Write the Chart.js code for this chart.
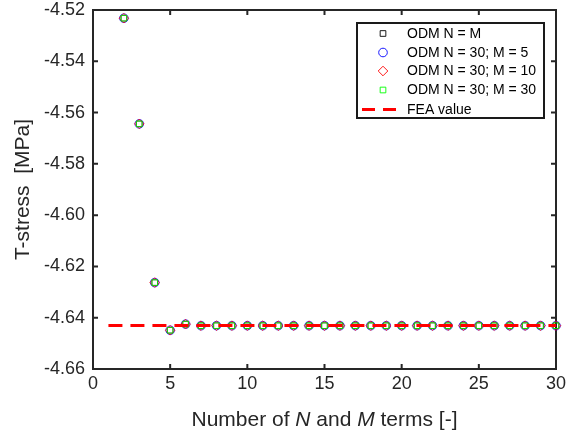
<!DOCTYPE html>
<html>
<head>
<meta charset="utf-8">
<script src="https://cdn.jsdelivr.net/npm/chart.js@4/dist/chart.umd.min.js"></script>
<style>
  html, body { margin: 0; padding: 0; background: #fff; }
  #wrap { width: 566px; height: 435px; }
</style>
</head>
<body>
<div id="wrap"><canvas id="c" width="566" height="435"></canvas></div>
<script>
// Number of series terms (N and M)
const nTerms = [2, 3, 4, 5, 6, 7, 8, 9, 10, 11, 12, 13, 14, 15, 16, 17, 18, 19, 20, 21, 22, 23, 24, 25, 26, 27, 28, 29, 30];

// T-stress [MPa] for each ODM configuration
const tStressNeqM = [-4.5232, -4.5644, -4.6263, -4.6449, -4.6425, -4.6431, -4.6431, -4.6431, -4.6431, -4.6431, -4.6431, -4.6431, -4.6431, -4.6431, -4.6431, -4.6431, -4.6431, -4.6431, -4.6431, -4.6431, -4.6431, -4.6431, -4.6431, -4.6431, -4.6431, -4.6431, -4.6431, -4.6431, -4.6431];
const tStressM5 = [-4.5232, -4.5644, -4.6263, -4.6449, -4.6425, -4.6431, -4.6431, -4.6431, -4.6431, -4.6431, -4.6431, -4.6431, -4.6431, -4.6431, -4.6431, -4.6431, -4.6431, -4.6431, -4.6431, -4.6431, -4.6431, -4.6431, -4.6431, -4.6431, -4.6431, -4.6431, -4.6431, -4.6431, -4.6431];
const tStressM10 = [-4.5232, -4.5644, -4.6263, -4.6449, -4.6425, -4.6431, -4.6431, -4.6431, -4.6431, -4.6431, -4.6431, -4.6431, -4.6431, -4.6431, -4.6431, -4.6431, -4.6431, -4.6431, -4.6431, -4.6431, -4.6431, -4.6431, -4.6431, -4.6431, -4.6431, -4.6431, -4.6431, -4.6431, -4.6431];
const tStressM30 = [-4.5232, -4.5644, -4.6263, -4.6449, -4.6425, -4.6431, -4.6431, -4.6431, -4.6431, -4.6431, -4.6431, -4.6431, -4.6431, -4.6431, -4.6431, -4.6431, -4.6431, -4.6431, -4.6431, -4.6431, -4.6431, -4.6431, -4.6431, -4.6431, -4.6431, -4.6431, -4.6431, -4.6431, -4.6431];

// Reference value from the finite element analysis
const feaRange = [1, 30];
const feaValue = -4.643;

const seriesLabels = ['ODM N = M', 'ODM N = 30; M = 5', 'ODM N = 30; M = 10', 'ODM N = 30; M = 30', 'FEA value'];
const xTitleParts = [['Number of ', false], ['N', true], [' and ', false], ['M', true], [' terms [-]', false]];
const yTitle = 'T-stress  [MPa]';

const AXIS = '#262626';
const FONT = '"Liberation Sans", Arial, Helvetica, sans-serif';

function pts(ys) { return nTerms.map((x, i) => ({ x: x, y: ys[i] })); }

const markerSet = (color, style, r, order) => ({
  type: 'scatter', showLine: false, pointStyle: style, pointRadius: r, pointHoverRadius: r,
  pointBorderColor: color, pointBackgroundColor: 'rgba(0,0,0,0)', pointBorderWidth: 0.8,
  borderColor: color, backgroundColor: 'rgba(0,0,0,0)', clip: false, order: order
});

const datasets = [
  Object.assign({ label: seriesLabels[0], data: pts(tStressNeqM) }, markerSet('#000000', 'rect', 4.0, 5)),
  Object.assign({ label: seriesLabels[1], data: pts(tStressM5) }, markerSet('#0000ff', 'circle', 4.3, 4)),
  Object.assign({ label: seriesLabels[2], data: pts(tStressM10) }, markerSet('#ff0000', 'rectRot', 4.8, 3)),
  Object.assign({ label: seriesLabels[3], data: pts(tStressM30) }, markerSet('#00ff00', 'rect', 4.0, 2)),
  {
    label: seriesLabels[4], type: 'line',
    data: feaRange.map(x => ({ x: x, y: feaValue })),
    borderColor: '#ff0000', borderWidth: 3, borderDash: [14, 8], pointRadius: 0, clip: false, order: 1
  }
];

// Axes box with inward ticks on all four sides, plus the legend and titles
const decor = {
  id: 'decor',
  beforeDatasetsDraw(chart) {
    const { ctx, chartArea: a, scales } = chart;
    ctx.save();
    ctx.strokeStyle = AXIS;
    ctx.lineWidth = 2;
    ctx.strokeRect(a.left, a.top, a.right - a.left, a.bottom - a.top);
    const tl = 5;
    scales.x.ticks.forEach(t => {
      const px = scales.x.getPixelForValue(t.value);
      ctx.beginPath();
      ctx.moveTo(px, a.bottom); ctx.lineTo(px, a.bottom - tl);
      ctx.moveTo(px, a.top); ctx.lineTo(px, a.top + tl);
      ctx.stroke();
    });
    scales.y.ticks.forEach(t => {
      const py = scales.y.getPixelForValue(t.value);
      ctx.beginPath();
      ctx.moveTo(a.left, py); ctx.lineTo(a.left + tl, py);
      ctx.moveTo(a.right, py); ctx.lineTo(a.right - tl, py);
      ctx.stroke();
    });

    // x-axis title with italic symbols
    ctx.fillStyle = AXIS;
    ctx.textBaseline = 'alphabetic';
    const size = 21;
    let total = 0;
    xTitleParts.forEach(([s, it]) => {
      ctx.font = (it ? 'italic ' : '') + size + 'px ' + FONT;
      total += ctx.measureText(s).width;
    });
    let x = (a.left + a.right) / 2 - total / 2;
    const yb = 426;
    xTitleParts.forEach(([s, it]) => {
      ctx.font = (it ? 'italic ' : '') + size + 'px ' + FONT;
      ctx.textAlign = 'left';
      ctx.fillText(s, x, yb);
      x += ctx.measureText(s).width;
    });

    // y-axis title
    ctx.save();
    ctx.translate(29, (a.top + a.bottom) / 2);
    ctx.rotate(-Math.PI / 2);
    ctx.font = '21px ' + FONT;
    ctx.textAlign = 'center';
    ctx.fillText(yTitle, 0, 0);
    ctx.restore();
    ctx.restore();
  },
  afterDatasetsDraw(chart) {
    const { ctx } = chart;
    const box = { l: 357, t: 23, r: 544, b: 118 };
    ctx.save();
    ctx.fillStyle = '#ffffff';
    ctx.fillRect(box.l, box.t, box.r - box.l, box.b - box.t);
    ctx.strokeStyle = '#1a1a1a';
    ctx.lineWidth = 2;
    ctx.strokeRect(box.l, box.t, box.r - box.l, box.b - box.t);
    const rows = [33.5, 52.5, 71, 90, 109.5];
    const mx = 383;
    ctx.font = '14px ' + FONT;
    ctx.textAlign = 'left';
    ctx.textBaseline = 'middle';
    chart.data.datasets.forEach((ds, i) => {
      const y = rows[i];
      if (ds.type === 'line') {
        ctx.save();
        ctx.strokeStyle = ds.borderColor;
        ctx.lineWidth = 3;
        ctx.setLineDash([13, 8]);
        ctx.beginPath();
        ctx.moveTo(362, y); ctx.lineTo(404, y);
        ctx.stroke();
        ctx.restore();
      } else {
        ctx.save();
        ctx.strokeStyle = ds.pointBorderColor;
        ctx.fillStyle = 'rgba(0,0,0,0)';
        ctx.lineWidth = 0.9;
        Chart.helpers.drawPoint(ctx, { pointStyle: ds.pointStyle, rotation: 0, radius: ds.pointRadius, borderWidth: 0.9 }, mx, y);
        ctx.restore();
      }
      ctx.fillStyle = '#000000';
      ctx.fillText(ds.label, 407, y + 0.5);
    });
    ctx.restore();
  }
};

new Chart(document.getElementById('c'), {
  type: 'scatter',
  data: { datasets: datasets },
  options: {
    responsive: false,
    animation: false,
    devicePixelRatio: 1,
    layout: { padding: { top: 10, right: 10, left: 0, bottom: 0 } },
    plugins: { legend: { display: false }, tooltip: { enabled: false } },
    scales: {
      x: {
        type: 'linear', min: 0, max: 30,
        ticks: { stepSize: 5, color: AXIS, font: { family: FONT, size: 18 }, padding: 4, maxRotation: 0 },
        grid: { display: false, drawTicks: false },
        border: { display: false },
        afterFit(s) { s.height = 66; s.paddingLeft = 0; s.paddingRight = 0; }
      },
      y: {
        type: 'linear', min: -4.66, max: -4.52,
        ticks: { stepSize: 0.02, color: AXIS, font: { family: FONT, size: 18 }, padding: 8,
          callback: v => Number(v).toFixed(2) },
        grid: { display: false, drawTicks: false },
        border: { display: false },
        afterFit(s) { s.width = 93; s.paddingTop = 0; s.paddingBottom = 0; }
      }
    }
  },
  plugins: [decor]
});
</script>
</body>
</html>
